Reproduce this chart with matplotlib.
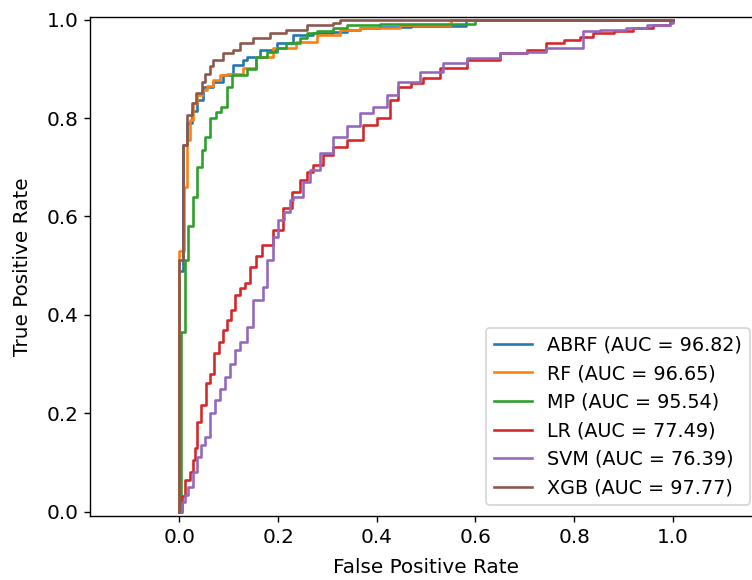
import matplotlib
matplotlib.use("Agg")
import matplotlib.pyplot as plt

labels = ["ABRF (AUC = 96.82)", "RF (AUC = 96.65)", "MP (AUC = 95.54)",
          "LR (AUC = 77.49)", "SVM (AUC = 76.39)", "XGB (AUC = 97.77)"]

# ROC corner points (fpr, tpr)
abrf_fpr = [0.0, 0.0, 0.008, 0.008, 0.016, 0.025, 0.035, 0.048, 0.068, 0.089, 0.109, 0.129, 0.136,
            0.163, 0.197, 0.231, 0.271, 0.312, 0.339, 0.366, 0.406, 0.47, 0.528, 0.58, 1.0]
abrf_tpr = [0.0, 0.49, 0.49, 0.745, 0.79, 0.815, 0.837, 0.864, 0.874, 0.888, 0.908, 0.918, 0.925,
            0.938, 0.952, 0.969, 0.972, 0.975, 0.979, 0.982, 0.984, 0.986, 0.988, 1.0, 1.0]

rf_fpr = [0.0, 0.0, 0.01, 0.015, 0.021, 0.027, 0.035, 0.045, 0.055, 0.068, 0.082, 0.096, 0.129,
          0.156, 0.19, 0.237, 0.278, 0.325, 0.366, 0.447, 0.55, 1.0]
rf_tpr = [0.0, 0.53, 0.66, 0.755, 0.796, 0.83, 0.847, 0.857, 0.866, 0.878, 0.888, 0.89, 0.901,
          0.925, 0.942, 0.955, 0.969, 0.979, 0.982, 0.989, 1.0, 1.0]

mp_fpr = [0.0, 0.003, 0.011, 0.018, 0.027, 0.035, 0.045, 0.052, 0.062, 0.075, 0.085, 0.096, 0.106,
          0.136, 0.156, 0.177, 0.197, 0.217, 0.244, 0.258, 0.278, 0.312, 0.339, 0.366, 0.406, 0.6, 1.0]
mp_tpr = [0.0, 0.365, 0.511, 0.58, 0.64, 0.70, 0.735, 0.762, 0.80, 0.813, 0.823, 0.864, 0.888,
          0.90, 0.925, 0.935, 0.942, 0.952, 0.962, 0.972, 0.976, 0.982, 0.989, 0.99, 0.992, 1.0, 1.0]

lr_fpr = [0.0, 0.006, 0.011, 0.022, 0.027, 0.031, 0.035, 0.044, 0.053, 0.062, 0.070, 0.080, 0.0875,
          0.096, 0.104, 0.1125, 0.123, 0.133, 0.143, 0.155, 0.167, 0.19, 0.21, 0.228, 0.244, 0.258,
          0.271, 0.292, 0.312, 0.339, 0.372, 0.40, 0.427, 0.443, 0.47, 0.494, 0.528, 0.582, 0.649,
          0.704, 0.744, 0.78, 0.811, 0.838, 0.88, 0.92, 0.96, 0.994, 1.0]
lr_tpr = [0.0, 0.032, 0.064, 0.08, 0.105, 0.13, 0.183, 0.217, 0.261, 0.28, 0.322, 0.345, 0.369,
          0.39, 0.41, 0.44, 0.455, 0.465, 0.498, 0.52, 0.542, 0.573, 0.617, 0.65, 0.674, 0.69,
          0.705, 0.725, 0.742, 0.755, 0.786, 0.80, 0.837, 0.864, 0.872, 0.881, 0.901, 0.918, 0.932,
          0.938, 0.952, 0.958, 0.965, 0.972, 0.976, 0.982, 0.99, 0.996, 1.0]

svm_fpr = [0.0, 0.006, 0.012, 0.018, 0.027, 0.035, 0.044, 0.052, 0.062, 0.072, 0.082, 0.092, 0.102,
           0.1125, 0.123, 0.136, 0.15, 0.17, 0.177, 0.19, 0.2, 0.212, 0.224, 0.231, 0.25, 0.264,
           0.285, 0.312, 0.339, 0.366, 0.393, 0.42, 0.443, 0.487, 0.535, 0.582, 0.649, 0.704, 0.744,
           0.818, 0.852, 0.906, 0.947, 0.994, 1.0]
svm_tpr = [0.0, 0.02, 0.035, 0.051, 0.08, 0.112, 0.135, 0.152, 0.2, 0.227, 0.25, 0.274, 0.30,
           0.329, 0.345, 0.376, 0.43, 0.457, 0.512, 0.559, 0.593, 0.61, 0.634, 0.64, 0.67, 0.694,
           0.728, 0.762, 0.783, 0.81, 0.823, 0.847, 0.874, 0.894, 0.911, 0.921, 0.932, 0.935, 0.942,
           0.976, 0.979, 0.982, 0.989, 0.993, 1.0]

xgb_fpr = [0.0, 0.0, 0.008, 0.016, 0.025, 0.033, 0.045, 0.052, 0.062, 0.068, 0.089, 0.109, 0.123,
           0.15, 0.183, 0.217, 0.258, 0.312, 0.325, 1.0]
xgb_tpr = [0.0, 0.511, 0.745, 0.806, 0.83, 0.85, 0.874, 0.89, 0.905, 0.918, 0.932, 0.938, 0.952,
           0.962, 0.972, 0.979, 0.989, 0.994, 1.0, 1.0]

series = [(abrf_fpr, abrf_tpr), (rf_fpr, rf_tpr), (mp_fpr, mp_tpr),
          (lr_fpr, lr_tpr), (svm_fpr, svm_tpr), (xgb_fpr, xgb_tpr)]
colors = ["#1f77b4", "#ff7f0e", "#2ca02c", "#d62728", "#9467bd", "#8c564b"]

plt.rcParams["font.size"] = 11.5

fig = plt.figure(figsize=(752 / 125, 580 / 125), dpi=125)
ax = fig.add_axes([0.1203, 0.1103, 0.8937, 0.861])
for (fx, ty), c, lab in zip(series, colors, labels):
    ax.plot(fx, ty, color=c, lw=1.5, drawstyle="steps-post", label=lab)

ax.set_xlim(-0.1803, 1.182)
ax.set_ylim(-0.0087, 1.006)
ax.set_xticks([0.0, 0.2, 0.4, 0.6, 0.8, 1.0])
ax.set_yticks([0.0, 0.2, 0.4, 0.6, 0.8, 1.0])
ax.set_xlabel("False Positive Rate", labelpad=6)
ax.set_ylabel("True Positive Rate", labelpad=8)
ax.legend(loc="lower right", bbox_to_anchor=(750 / 752, 75 / 580),
          bbox_transform=fig.transFigure, borderaxespad=0, fontsize=11)
fig.savefig("out.png", dpi=125)
